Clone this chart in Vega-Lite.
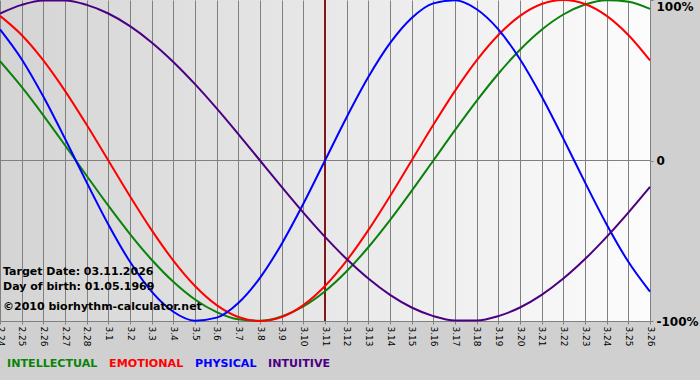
{
  "$schema": "https://vega.github.io/schema/vega-lite/v6.json",
  "width": 650,
  "height": 321,
  "autosize": "none",
  "padding": {"left": 0, "top": 0, "right": 50, "bottom": 59},
  "background": "#d0d0d0",
  "view": {
    "stroke": null,
    "fill": {"gradient": "linear", "x1": 0, "y1": 0, "x2": 1, "y2": 0,
      "stops": [{"offset": 0, "color": "#d4d4d4"}, {"offset": 1, "color": "#fcfcfc"}]}
  },
  "config": {"font": "DejaVu Sans"},
  "data": {"values": [
    {"d": "2.24", "INTELLECTUAL": 0.6182, "EMOTIONAL": 0.9010, "PHYSICAL": 0.8170, "INTUITIVE": 0.9158},
    {"d": "2.25", "INTELLECTUAL": 0.4582, "EMOTIONAL": 0.7818, "PHYSICAL": 0.6311, "INTUITIVE": 0.9694},
    {"d": "2.26", "INTELLECTUAL": 0.2817, "EMOTIONAL": 0.6235, "PHYSICAL": 0.3984, "INTUITIVE": 0.9966},
    {"d": "2.27", "INTELLECTUAL": 0.0951, "EMOTIONAL": 0.4339, "PHYSICAL": 0.1362, "INTUITIVE": 0.9966},
    {"d": "2.28", "INTELLECTUAL": -0.0951, "EMOTIONAL": 0.2225, "PHYSICAL": -0.1362, "INTUITIVE": 0.9694},
    {"d": "3.1", "INTELLECTUAL": -0.2817, "EMOTIONAL": 0, "PHYSICAL": -0.3984, "INTUITIVE": 0.9158},
    {"d": "3.2", "INTELLECTUAL": -0.4582, "EMOTIONAL": -0.2225, "PHYSICAL": -0.6311, "INTUITIVE": 0.8372},
    {"d": "3.3", "INTELLECTUAL": -0.6182, "EMOTIONAL": -0.4339, "PHYSICAL": -0.8170, "INTUITIVE": 0.7357},
    {"d": "3.4", "INTELLECTUAL": -0.7557, "EMOTIONAL": -0.6235, "PHYSICAL": -0.9423, "INTUITIVE": 0.6142},
    {"d": "3.5", "INTELLECTUAL": -0.8660, "EMOTIONAL": -0.7818, "PHYSICAL": -0.9977, "INTUITIVE": 0.4759},
    {"d": "3.6", "INTELLECTUAL": -0.9450, "EMOTIONAL": -0.9010, "PHYSICAL": -0.9791, "INTUITIVE": 0.3247},
    {"d": "3.7", "INTELLECTUAL": -0.9898, "EMOTIONAL": -0.9749, "PHYSICAL": -0.8879, "INTUITIVE": 0.1646},
    {"d": "3.8", "INTELLECTUAL": -0.9989, "EMOTIONAL": -1, "PHYSICAL": -0.7308, "INTUITIVE": 0},
    {"d": "3.9", "INTELLECTUAL": -0.9718, "EMOTIONAL": -0.9749, "PHYSICAL": -0.5196, "INTUITIVE": -0.1646},
    {"d": "3.10", "INTELLECTUAL": -0.9096, "EMOTIONAL": -0.9010, "PHYSICAL": -0.2698, "INTUITIVE": -0.3247},
    {"d": "3.11", "INTELLECTUAL": -0.8146, "EMOTIONAL": -0.7818, "PHYSICAL": 0, "INTUITIVE": -0.4759},
    {"d": "3.12", "INTELLECTUAL": -0.6901, "EMOTIONAL": -0.6235, "PHYSICAL": 0.2698, "INTUITIVE": -0.6142},
    {"d": "3.13", "INTELLECTUAL": -0.5406, "EMOTIONAL": -0.4339, "PHYSICAL": 0.5196, "INTUITIVE": -0.7357},
    {"d": "3.14", "INTELLECTUAL": -0.3717, "EMOTIONAL": -0.2225, "PHYSICAL": 0.7308, "INTUITIVE": -0.8372},
    {"d": "3.15", "INTELLECTUAL": -0.1893, "EMOTIONAL": 0, "PHYSICAL": 0.8879, "INTUITIVE": -0.9158},
    {"d": "3.16", "INTELLECTUAL": 0, "EMOTIONAL": 0.2225, "PHYSICAL": 0.9791, "INTUITIVE": -0.9694},
    {"d": "3.17", "INTELLECTUAL": 0.1893, "EMOTIONAL": 0.4339, "PHYSICAL": 0.9977, "INTUITIVE": -0.9966},
    {"d": "3.18", "INTELLECTUAL": 0.3717, "EMOTIONAL": 0.6235, "PHYSICAL": 0.9423, "INTUITIVE": -0.9966},
    {"d": "3.19", "INTELLECTUAL": 0.5406, "EMOTIONAL": 0.7818, "PHYSICAL": 0.8170, "INTUITIVE": -0.9694},
    {"d": "3.20", "INTELLECTUAL": 0.6901, "EMOTIONAL": 0.9010, "PHYSICAL": 0.6311, "INTUITIVE": -0.9158},
    {"d": "3.21", "INTELLECTUAL": 0.8146, "EMOTIONAL": 0.9749, "PHYSICAL": 0.3984, "INTUITIVE": -0.8372},
    {"d": "3.22", "INTELLECTUAL": 0.9096, "EMOTIONAL": 1, "PHYSICAL": 0.1362, "INTUITIVE": -0.7357},
    {"d": "3.23", "INTELLECTUAL": 0.9718, "EMOTIONAL": 0.9749, "PHYSICAL": -0.1362, "INTUITIVE": -0.6142},
    {"d": "3.24", "INTELLECTUAL": 0.9989, "EMOTIONAL": 0.9010, "PHYSICAL": -0.3984, "INTUITIVE": -0.4759},
    {"d": "3.25", "INTELLECTUAL": 0.9898, "EMOTIONAL": 0.7818, "PHYSICAL": -0.6311, "INTUITIVE": -0.3247},
    {"d": "3.26", "INTELLECTUAL": 0.9450, "EMOTIONAL": 0.6235, "PHYSICAL": -0.8170, "INTUITIVE": -0.1646}
  ]},
  "layer": [
    {
      "data": {"values": [{}]},
      "mark": {"type": "rule", "color": "#808080", "strokeWidth": 1},
      "encoding": {"y": {"datum": 0, "type": "quantitative"}}
    },
    {
      "data": {"values": [{}]},
      "mark": {"type": "rule", "color": "#801818", "strokeWidth": 2},
      "encoding": {"x": {"datum": "3.11", "type": "ordinal"}}
    },
    {
      "transform": [{"fold": ["INTELLECTUAL", "EMOTIONAL", "PHYSICAL", "INTUITIVE"], "as": ["series", "v"]}],
      "mark": {"type": "line", "strokeWidth": 2, "interpolate": "monotone"},
      "encoding": {
        "x": {
          "field": "d", "type": "ordinal",
          "scale": {"type": "point", "padding": 0, "domain": ["2.24","2.25","2.26","2.27","2.28","3.1","3.2","3.3","3.4","3.5","3.6","3.7","3.8","3.9","3.10","3.11","3.12","3.13","3.14","3.15","3.16","3.17","3.18","3.19","3.20","3.21","3.22","3.23","3.24","3.25","3.26"]},
          "axis": {
            "title": null, "labelAngle": 90, "labelAlign": "left", "labelBaseline": "middle",
            "labelFontSize": 9, "labelColor": "#000000",
            "labelPadding": 2, "grid": true, "gridColor": "#808080", "gridOpacity": 1,
            "domainColor": "#808080", "tickColor": "#808080", "tickSize": 3, "labelOverlap": false
          }
        },
        "y": {
          "field": "v", "type": "quantitative",
          "scale": {"domain": [-1, 1], "nice": false, "zero": false},
          "axis": {
            "orient": "right", "title": null, "values": [-1, 0, 1], "grid": false, "domain": false,
            "labelExpr": "datum.value == 1 ? '100%' : (datum.value == -1 ? '-100%' : '0')",
            "labelFontSize": 12, "labelFontWeight": "bold", "labelColor": "#000000",
            "labelPadding": 3, "tickColor": "#808080", "tickSize": 3,
            "labelBaseline": {"condition": {"test": "datum.value == 1", "value": "top"}, "value": "middle"},
            "labelOffset": {"condition": {"test": "datum.value == 1", "value": 1}, "value": 0}
          }
        },
        "color": {
          "field": "series", "type": "nominal",
          "scale": {"domain": ["INTELLECTUAL", "EMOTIONAL", "PHYSICAL", "INTUITIVE"], "range": ["#0a820a", "#ff0000", "#0000ff", "#4b0082"]},
          "legend": {
            "title": null, "orient": "none", "legendX": -4, "legendY": 358, "direction": "horizontal",
            "padding": 0, "symbolSize": 0, "symbolStrokeWidth": 0, "labelOffset": 0, "columnPadding": -4,
            "labelFontSize": 11.1, "labelFontWeight": "bold",
            "encode": {"labels": {"update": {"fill": {"scale": "color", "field": "value"}}}}
          }
        }
      }
    },
    {
      "data": {"values": [{}]},
      "mark": {"type": "text", "text": "Target Date: 03.11.2026", "align": "left", "baseline": "middle", "dx": 3, "fontSize": 11, "fontWeight": "bold", "color": "#000000"},
      "encoding": {"x": {"datum": "2.24", "type": "ordinal"}, "y": {"datum": -0.693, "type": "quantitative"}}
    },
    {
      "data": {"values": [{}]},
      "mark": {"type": "text", "text": "Day of birth: 01.05.1969", "align": "left", "baseline": "middle", "dx": 3, "fontSize": 11, "fontWeight": "bold", "color": "#000000"},
      "encoding": {"x": {"datum": "2.24", "type": "ordinal"}, "y": {"datum": -0.79, "type": "quantitative"}}
    },
    {
      "data": {"values": [{}]},
      "mark": {"type": "text", "text": "©2010 biorhythm-calculator.net", "align": "left", "baseline": "middle", "dx": 3, "fontSize": 11, "fontWeight": "bold", "color": "#000000"},
      "encoding": {"x": {"datum": "2.24", "type": "ordinal"}, "y": {"datum": -0.911, "type": "quantitative"}}
    }
  ]
}
